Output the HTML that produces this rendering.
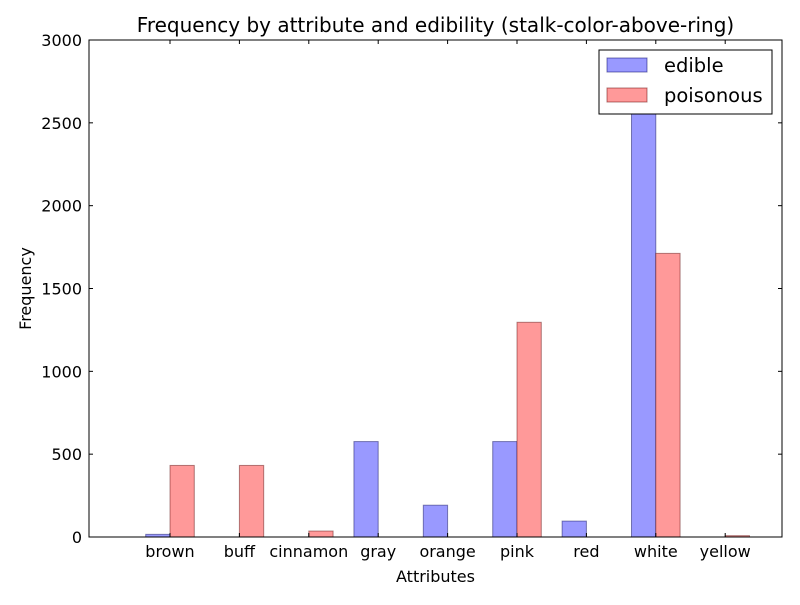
<!DOCTYPE html>
<html><head><meta charset="utf-8"><style>body{margin:0;background:#fff}svg text{font-family:"DejaVu Sans","Liberation Sans",sans-serif}</style></head>
<body>
<svg id="chart" width="800" height="600" xmlns="http://www.w3.org/2000/svg">
<rect width="800" height="600" fill="#fff"/>
<text x="435.5" y="32" font-size="20" text-anchor="middle">Frequency by attribute and edibility (stalk-color-above-ring)</text>
<g id="bars"></g>
<g id="axes"></g>
<rect x="89" y="40" width="693" height="497" fill="none" stroke="#000" stroke-width="1"/>
<text x="435.5" y="582" font-size="16" text-anchor="middle">Attributes</text>
<text transform="translate(31,288.5) rotate(-90)" font-size="16" text-anchor="middle">Frequency</text>
<g>
<rect x="599" y="50" width="173" height="64" fill="#fff" stroke="#000"/>
<rect x="607" y="58" width="40" height="14" fill="rgb(153,153,255)" stroke="rgba(0,0,100,0.5)"/>
<text x="664" y="72" font-size="19.5">edible</text>
<rect x="607" y="88" width="40" height="14" fill="rgb(255,153,153)" stroke="rgba(100,0,0,0.5)"/>
<text x="664" y="102" font-size="19.5">poisonous</text>
</g>
</svg>
<script>
const categories=["brown","buff","cinnamon","gray","orange","pink","red","white","yellow"];
const edible=[16,0,0,576,192,576,96,2752,0];
const poisonous=[432,432,36,0,0,1296,0,1712,8];
const yTicks=[0,500,1000,1500,2000,2500,3000];
const NS="http://www.w3.org/2000/svg";
const L=89,R=782,T=40,B=537,yMax=3000;
const unit=69.4, x0=170, bw=0.35*unit;
const xs=i=>x0+i*unit;
const ys=v=>B-v/yMax*(B-T);
const bars=document.getElementById('bars'), axes=document.getElementById('axes');
function mk(tag,attrs,parent){const e=document.createElementNS(NS,tag);for(const k in attrs)e.setAttribute(k,attrs[k]);parent.appendChild(e);return e;}
categories.forEach((c,i)=>{
  const r1=mk('rect',{x:xs(i)-bw,y:ys(edible[i]),width:bw,height:B-ys(edible[i]),fill:'rgb(153,153,255)',stroke:'rgba(0,0,80,0.45)'},bars);
  
  
  const r2=mk('rect',{x:xs(i),y:ys(poisonous[i]),width:bw,height:B-ys(poisonous[i]),fill:'rgb(255,153,153)',stroke:'rgba(80,0,0,0.45)'},bars);
  
  
  const t=mk('text',{x:xs(i),y:B+20,'font-size':16,'text-anchor':'middle'},axes);
  t.textContent=c;
  
  
  mk('line',{x1:xs(i),x2:xs(i),y1:B,y2:B-4,stroke:'#000'},axes);
  mk('line',{x1:xs(i),x2:xs(i),y1:T,y2:T+4,stroke:'#000'},axes);
});
yTicks.forEach(v=>{
  const y=ys(v);
  mk('line',{x1:L,x2:L+4,y1:y,y2:y,stroke:'#000'},axes);
  mk('line',{x1:R,x2:R-4,y1:y,y2:y,stroke:'#000'},axes);
  const t=mk('text',{x:L-7,y:y+6,'font-size':16,'text-anchor':'end'},axes);
  t.textContent=v;
  
  
});
</script>
</body></html>
